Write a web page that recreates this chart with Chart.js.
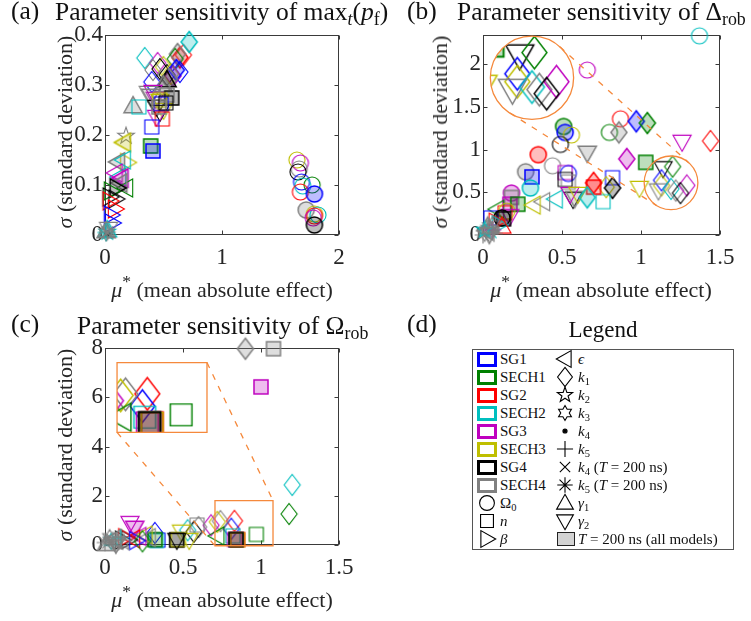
<!DOCTYPE html>
<html>
<head>
<meta charset="utf-8">
<script src="https://cdn.jsdelivr.net/npm/chart.js"></script>
<style>
  body { margin: 0; background: #fff; }
  #fig { position: relative; width: 751px; height: 621px; font-family: 'Liberation Serif', serif; color: #1a1a1a; overflow: hidden; }
  #fig canvas.panel { position: absolute; }
  .txt { position: absolute; white-space: nowrap; line-height: 1; }
  .ttl { font-size: 25.5px; color: #111; }
  .leghead { font-size: 23px; color: #111; }
  .axl { font-size: 22px; color: #262626; }
  .ylab { transform: translate(-50%, -50%) rotate(-90deg); }
  .xlab { transform: translateX(-50%); }
  sub { font-size: 0.7em; vertical-align: -0.3em; line-height: 0; }
  sup { font-size: 0.8em; vertical-align: 0.55em; line-height: 0; }
  #legendBox { position: absolute; left: 472px; top: 349px; width: 262px; height: 201px; box-sizing: border-box; border: 1px solid #555; }
  .leg { font-size: 15px; color: #111; }
  .swatch { position: absolute; width: 20px; height: 15px; box-sizing: border-box; border: 3px solid; }
</style>
</head>
<body>
<div id="fig">
  <canvas id="maxPf" class="panel" width="375" height="310" style="left:0;top:0"></canvas>
  <canvas id="deltaRob" class="panel" width="376" height="310" style="left:375px;top:0"></canvas>
  <canvas id="omegaRob" class="panel" width="375" height="311" style="left:0;top:310px"></canvas>

  <div class="txt ttl" style="left:11px;top:-2px">(a)</div>
  <div class="txt ttl" style="left:55px;top:-1px">Parameter sensitivity of max<sub><i>t</i></sub>(<i>p</i><sub>f</sub>)</div>
  <div class="txt ttl" style="left:407px;top:-2px">(b)</div>
  <div class="txt ttl" style="left:457px;top:-1px">Parameter sensitivity of Δ<sub>rob</sub></div>
  <div class="txt ttl" style="left:11px;top:311px">(c)</div>
  <div class="txt ttl" style="left:77px;top:313px">Parameter sensitivity of Ω<sub>rob</sub></div>
  <div class="txt ttl" style="left:407px;top:311px">(d)</div>
  <div class="txt leghead xlab" style="left:603px;top:318px">Legend</div>

  <div class="txt axl ylab" style="left:65px;top:132px"><i>σ</i> (standard deviation)</div>
  <div class="txt axl ylab" style="left:440px;top:132px"><i>σ</i> (standard deviation)</div>
  <div class="txt axl ylab" style="left:65px;top:445px"><i>σ</i> (standard deviation)</div>
  <div class="txt axl xlab" style="left:222px;top:279px"><i>μ</i><sup>*</sup> (mean absolute effect)</div>
  <div class="txt axl xlab" style="left:601px;top:279px"><i>μ</i><sup>*</sup> (mean absolute effect)</div>
  <div class="txt axl xlab" style="left:222px;top:589px"><i>μ</i><sup>*</sup> (mean absolute effect)</div>

  <div id="legendBox"></div>
</div>

<script>
// models (colour) and swept parameters (marker)
const modelNames = ["SG1", "SECH1", "SG2", "SECH2", "SG3", "SECH3", "SG4", "SECH4"];
const paramKeys = ["Om", "n", "beta", "eps", "k1", "k2", "k3", "k4", "k5", "k4T", "k5T", "g1", "g2"];

// [mu*, sigma, model, parameter, T = 200 ns run]
const maxPfPoints = [
  [1.64, 0.150, "SECH3", "Om", 0], [1.67, 0.144, "SG3", "Om", 0], [1.66, 0.132, "SECH4", "Om", 0],
  [1.65, 0.126, "SG4", "Om", 0], [1.68, 0.106, "SG1", "Om", 0], [1.77, 0.100, "SECH1", "Om", 0],
  [1.69, 0.098, "SECH2", "Om", 0], [1.67, 0.086, "SG2", "Om", 0], [1.79, 0.082, "SG1", "Om", 1],
  [1.72, 0.050, "SECH4", "Om", 1], [1.79, 0.042, "SECH3", "Om", 0], [1.82, 0.040, "SECH2", "Om", 0],
  [1.79, 0.038, "SG2", "Om", 0], [1.78, 0.034, "SG3", "Om", 0], [1.79, 0.020, "SG4", "Om", 1],
  [0.34, 0.354, "SECH2", "k1", 0], [0.67, 0.360, "SG2", "k1", 0], [0.64, 0.355, "SG2", "k1", 1],
  [0.62, 0.362, "SECH4", "k1", 1], [0.60, 0.352, "SECH1", "k1", 0], [0.45, 0.344, "SG3", "k1", 0],
  [0.50, 0.336, "SECH3", "k1", 0], [0.64, 0.326, "SG1", "k1", 0], [0.41, 0.330, "SECH4", "k1", 0],
  [0.47, 0.332, "SG4", "k1", 0], [0.53, 0.320, "SG4", "k1", 0], [0.58, 0.318, "SG3", "k1", 1],
  [0.56, 0.322, "SECH3", "k1", 0], [0.40, 0.306, "SG1", "k1", 0], [0.61, 0.330, "SG1", "k1", 1],
  [0.55, 0.312, "SECH4", "k1", 1], [0.72, 0.386, "SECH2", "k1", 1],
  [0.53, 0.310, "SG4", "g1", 1], [0.50, 0.300, "SECH4", "g1", 1], [0.24, 0.258, "SECH4", "g1", 1],
  [0.37, 0.284, "SECH4", "g2", 0], [0.41, 0.286, "SG3", "g2", 0], [0.43, 0.272, "SG3", "g2", 0],
  [0.39, 0.278, "SECH4", "g2", 1], [0.47, 0.268, "SECH3", "g2", 0], [0.44, 0.256, "SG4", "g2", 0],
  [0.50, 0.250, "SECH3", "g2", 0], [0.47, 0.246, "SG4", "g2", 0], [0.44, 0.236, "SG3", "g2", 0],
  [0.57, 0.274, "SG4", "n", 1], [0.53, 0.280, "SECH4", "n", 1], [0.47, 0.270, "SECH3", "n", 0],
  [0.48, 0.262, "SG1", "n", 0], [0.46, 0.256, "SECH4", "n", 1], [0.52, 0.264, "SG4", "n", 0],
  [0.49, 0.232, "SG2", "n", 0], [0.40, 0.216, "SG1", "n", 0], [0.39, 0.178, "SECH1", "n", 1],
  [0.41, 0.168, "SG1", "n", 1], [0.29, 0.256, "SECH2", "n", 0],
  [0.18, 0.198, "SECH4", "k2", 0], [0.16, 0.185, "SECH3", "eps", 1], [0.19, 0.145, "SECH3", "beta", 0],
  [0.11, 0.146, "SECH4", "eps", 1], [0.16, 0.150, "SECH2", "eps", 0], [0.12, 0.116, "SECH2", "eps", 0],
  [0.14, 0.114, "SG3", "eps", 1], [0.09, 0.124, "SG3", "eps", 0], [0.18, 0.094, "SECH1", "eps", 0],
  [0.13, 0.104, "SECH4", "eps", 1], [0.10, 0.094, "SG4", "beta", 1], [0.05, 0.088, "SECH1", "beta", 0],
  [0.04, 0.076, "SG4", "beta", 0], [0.09, 0.072, "SG4", "beta", 0], [0.04, 0.068, "SG2", "beta", 0],
  [0.085, 0.052, "SG2", "beta", 0], [0.05, 0.040, "SG1", "beta", 0], [0.06, 0.024, "SG1", "beta", 0],
  [0.02, 0.010, "SECH2", "g1", 1], [0.01, 0.008, "SECH4", "g1", 1], [0.02, 0.006, "SECH2", "k2", 0],
  [0.01, 0.004, "SECH4", "k3", 0], [0.02, 0.003, "SG4", "k4", 0], [0.01, 0.005, "SECH2", "k5", 0],
  [0.02, 0.004, "SECH4", "k4T", 0], [0.02, 0.006, "SECH4", "k5T", 0], [0.03, 0.012, "SECH4", "g2", 0]
];

const deltaRobPoints = [
  [1.37, 2.33, "SECH2", "Om", 0], [0.66, 1.93, "SG3", "Om", 0], [0.87, 1.36, "SG2", "Om", 0],
  [0.97, 1.33, "SG1", "k1", 1], [1.04, 1.31, "SECH1", "k1", 1], [0.80, 1.20, "SECH1", "Om", 0],
  [0.86, 1.20, "SECH4", "k1", 1], [1.26, 1.09, "SG3", "g2", 0], [1.44, 1.10, "SG2", "k1", 0],
  [0.91, 0.89, "SG3", "k1", 1], [1.03, 0.85, "SECH1", "n", 1],
  [1.14, 0.78, "SG4", "g2", 0], [1.20, 0.80, "SECH1", "k1", 0], [1.13, 0.64, "SG1", "k1", 0],
  [1.13, 0.58, "SECH3", "k1", 0], [1.11, 0.52, "SECH4", "g2", 0], [1.19, 0.54, "SECH2", "k1", 0],
  [1.22, 0.52, "SECH4", "k1", 0], [1.29, 0.58, "SG3", "k1", 0], [1.25, 0.49, "SG4", "k1", 0],
  [0.99, 0.55, "SECH3", "g2", 0], [0.82, 0.67, "SG1", "n", 0], [0.78, 0.56, "SECH3", "k1", 0],
  [0.82, 0.55, "SG4", "k1", 1], [0.76, 0.39, "SECH2", "n", 0],
  [0.51, 1.27, "SECH1", "Om", 1], [0.52, 1.20, "SG1", "Om", 1], [0.56, 1.17, "SECH3", "Om", 0],
  [0.49, 1.06, "SG4", "Om", 0], [0.66, 0.96, "SECH4", "g2", 1], [0.35, 0.94, "SG2", "Om", 1],
  [0.44, 0.81, "SECH4", "Om", 0], [0.27, 0.74, "SECH4", "Om", 1], [0.31, 0.68, "SG1", "n", 1],
  [0.52, 0.73, "SG3", "n", 0], [0.54, 0.72, "SG1", "Om", 0], [0.52, 0.65, "SG4", "n", 0],
  [0.54, 0.62, "SECH4", "n", 0], [0.30, 0.55, "SECH2", "Om", 1], [0.18, 0.49, "SG3", "Om", 1],
  [0.18, 0.44, "SECH4", "n", 1], [0.17, 0.36, "SG3", "n", 1], [0.22, 0.36, "SECH1", "n", 1],
  [0.70, 0.61, "SG2", "k1", 1], [0.70, 0.56, "SG2", "n", 1], [0.46, 0.42, "SECH2", "eps", 0],
  [0.38, 0.39, "SECH4", "eps", 0], [0.32, 0.35, "SECH3", "eps", 0], [0.57, 0.42, "SG4", "g2", 0],
  [0.58, 0.43, "SECH4", "g2", 1], [0.55, 0.48, "SG3", "g2", 0], [0.60, 0.48, "SECH3", "g2", 0],
  [0.66, 0.44, "SECH2", "k1", 1], [0.09, 0.30, "SECH1", "eps", 0], [0.14, 0.26, "SG2", "n", 0],
  [0.15, 0.28, "SECH3", "Om", 0], [0.17, 0.22, "SG3", "g2", 0], [0.05, 0.20, "SG1", "n", 0],
  [0.12, 0.20, "SG4", "Om", 1], [0.13, 0.19, "SG4", "n", 1], [0.08, 0.15, "SG2", "beta", 0],
  [0.10, 0.12, "SECH2", "beta", 0], [0.12, 0.10, "SG2", "g1", 0], [0.03, 0.08, "SECH4", "k5T", 0],
  [0.04, 0.08, "SECH4", "k2", 0], [0.01, 0.02, "SECH4", "k3", 0], [0.05, 0.03, "SECH2", "k4T", 0],
  [0.03, 0.10, "SECH4", "g1", 1], [0.06, 0.06, "SG3", "k5", 0], [0.09, 0.04, "SECH4", "k4", 0],
  [0.00, 0.00, "SECH4", "k5T", 0], [0.02, 0.05, "SECH4", "eps", 1], [0.06, 0.12, "SECH4", "k3", 0],
  [0.01, 0.06, "SECH2", "k2", 0], [0.07, 0.02, "SECH4", "k5", 0], [0.04, 0.01, "SECH4", "g2", 1]
];

const omegaRobPoints = [
  [0.90, 7.97, "SECH4", "k1", 1], [1.08, 7.97, "SECH4", "n", 1], [1.00, 6.42, "SG3", "n", 1],
  [1.20, 2.44, "SECH2", "k1", 0], [1.18, 1.26, "SECH1", "k1", 0],
  [0.83, 0.98, "SG2", "k1", 0], [0.81, 0.66, "SG1", "k1", 0], [0.97, 0.43, "SECH1", "n", 0],
  [0.82, 0.37, "SECH2", "n", 0], [0.83, 0.22, "SG3", "n", 0], [0.85, 0.22, "SG2", "n", 1],
  [0.84, 0.23, "SECH4", "n", 1], [0.85, 0.21, "SECH3", "n", 0], [0.84, 0.22, "SG4", "n", 1],
  [0.74, 0.97, "SECH4", "k1", 0], [0.72, 0.94, "SECH3", "k1", 0], [0.68, 0.80, "SG3", "k1", 0],
  [0.72, 0.37, "SECH1", "eps", 0], [0.60, 0.73, "SECH4", "k1", 0], [0.57, 0.54, "SG4", "k1", 0],
  [0.53, 0.60, "SECH2", "k1", 0], [0.59, 0.81, "SECH4", "n", 0], [0.49, 0.54, "SECH3", "g2", 0],
  [0.54, 0.20, "SECH3", "g2", 0], [0.46, 0.22, "SECH4", "n", 1], [0.46, 0.20, "SG4", "n", 1],
  [0.47, 0.22, "SECH3", "n", 0], [0.46, 0.20, "SG4", "g2", 0], [0.19, 0.69, "SG3", "g2", 1],
  [0.16, 0.89, "SG3", "g2", 0], [0.32, 0.49, "SG1", "k1", 0], [0.34, 0.20, "SG1", "n", 0],
  [0.33, 0.18, "SECH2", "n", 0], [0.32, 0.22, "SECH1", "n", 1], [0.26, 0.41, "SECH3", "eps", 0],
  [0.28, 0.30, "SECH4", "eps", 0], [0.22, 0.35, "SG3", "eps", 0], [0.11, 0.20, "SG4", "beta", 0],
  [0.15, 0.22, "SG4", "beta", 0], [0.13, 0.30, "SG2", "beta", 0], [0.18, 0.25, "SG2", "eps", 0],
  [0.20, 0.18, "SG1", "beta", 0], [0.24, 0.15, "SECH1", "k1", 0], [0.05, 0.20, "SECH4", "k5T", 0],
  [0.02, 0.10, "SECH4", "k4T", 0], [0.04, 0.15, "SECH2", "k3", 0], [0.08, 0.12, "SECH4", "k2", 0],
  [0.01, 0.05, "SECH4", "g1", 1], [0.06, 0.25, "SECH4", "eps", 1], [0.10, 0.30, "SECH2", "k5", 0],
  [0.03, 0.30, "SECH4", "k3", 0], [0.00, 0.10, "SECH4", "k5T", 0], [0.07, 0.05, "SECH4", "g2", 1],
  [0.12, 0.10, "SECH4", "k2", 0]
];

// axis ticks
const maxPfXTicks = [0, 1, 2];
const maxPfYTicks = [0, 0.1, 0.2, 0.3, 0.4];
const deltaXTicks = [0, 0.5, 1, 1.5];
const deltaYTicks = [0, 0.5, 1, 1.5, 2];
const omegaXTicks = [0, 0.5, 1, 1.5];
const omegaYTicks = [0, 2, 4, 6, 8];

// legend entries, column by column
const legendCol1 = ["SG1", "SECH1", "SG2", "SECH2", "SG3", "SECH3", "SG4", "SECH4", "Om", "n", "beta"];
const legendCol2 = ["eps", "k1", "k2", "k3", "k4", "k5", "k4T", "k5T", "g1", "g2", "T200"];
const paramLabels = {
  Om: "Ω<sub>0</sub>", n: "<i>n</i>", beta: "<i>β</i>", eps: "<i>ϵ</i>",
  k1: "<i>k</i><sub>1</sub>", k2: "<i>k</i><sub>2</sub>", k3: "<i>k</i><sub>3</sub>",
  k4: "<i>k</i><sub>4</sub>", k5: "<i>k</i><sub>5</sub>",
  k4T: "<i>k</i><sub>4</sub> (<i>T</i> = 200 ns)", k5T: "<i>k</i><sub>5</sub> (<i>T</i> = 200 ns)",
  g1: "<i>γ</i><sub>1</sub>", g2: "<i>γ</i><sub>2</sub>", T200: "<i>T</i> = 200 ns (all models)"
};

// styling
const modelColors = {
  SG1: "#0000ff", SECH1: "#008000", SG2: "#ff0000", SECH2: "#00bfbf",
  SG3: "#bf00bf", SECH3: "#bfbf00", SG4: "#000000", SECH4: "#808080"
};
const ORANGE = "#f5893c";
const LINE_MARKERS = new Set(["k5", "k4T", "k5T"]);
const TICK_FONT = { family: "Liberation Serif", size: 23 };
Chart.defaults.font.family = "Liberation Serif";

function tint(hex, a) {
  const v = parseInt(hex.slice(1), 16);
  return `rgba(${v >> 16},${(v >> 8) & 255},${v & 255},${a})`;
}

function poly(g, r, pts) {
  pts.forEach(([px, py], i) => (i ? g.lineTo(px * r, py * r) : g.moveTo(px * r, py * r)));
  g.closePath();
}

function star(g, n, rOut, rIn) {
  for (let i = 0; i < 2 * n; i++) {
    const a = -Math.PI / 2 + (i * Math.PI) / n;
    const rr = i % 2 ? rIn : rOut;
    i ? g.lineTo(rr * Math.cos(a), rr * Math.sin(a)) : g.moveTo(rr * Math.cos(a), rr * Math.sin(a));
  }
  g.closePath();
}

function markerPath(g, param, r) {
  g.beginPath();
  switch (param) {
    case "Om": g.arc(0, 0, 1.15 * r, 0, 2 * Math.PI); break;
    case "n": g.rect(-r, -r, 2 * r, 2 * r); break;
    case "k1": poly(g, r, [[0, -1.5], [1.15, 0], [0, 1.5], [-1.15, 0]]); break;
    case "g1": poly(g, r, [[0, -1.35], [1.3, 0.95], [-1.3, 0.95]]); break;
    case "g2": poly(g, r, [[0, 1.35], [1.3, -0.95], [-1.3, -0.95]]); break;
    case "beta": poly(g, r, [[1.35, 0], [-0.95, -1.3], [-0.95, 1.3]]); break;
    case "eps": poly(g, r, [[-1.35, 0], [0.95, -1.3], [0.95, 1.3]]); break;
    case "k2": star(g, 5, 1.25 * r, 0.5 * r); break;
    case "k3": star(g, 6, 1.15 * r, 0.66 * r); break;
    case "k4": g.arc(0, 0, 0.32 * r, 0, 2 * Math.PI); break;
    case "k5":
      g.moveTo(-1.25 * r, 0); g.lineTo(1.25 * r, 0);
      g.moveTo(0, -1.25 * r); g.lineTo(0, 1.25 * r); break;
    case "k4T":
      g.moveTo(-0.8 * r, -0.8 * r); g.lineTo(0.8 * r, 0.8 * r);
      g.moveTo(0.8 * r, -0.8 * r); g.lineTo(-0.8 * r, 0.8 * r); break;
    case "k5T":
      g.moveTo(-1.2 * r, 0); g.lineTo(1.2 * r, 0);
      g.moveTo(0, -1.2 * r); g.lineTo(0, 1.2 * r);
      g.moveTo(-0.85 * r, -0.85 * r); g.lineTo(0.85 * r, 0.85 * r);
      g.moveTo(0.85 * r, -0.85 * r); g.lineTo(-0.85 * r, 0.85 * r); break;
  }
}

const markerCache = new Map();
function marker(param, color, t200, scale) {
  const key = [param, color, t200, scale].join("|");
  if (markerCache.has(key)) return markerCache.get(key);
  const r = 7 * scale;
  const dim = Math.ceil(3.4 * r) + 4;
  const c = document.createElement("canvas");
  c.width = c.height = dim;
  const g = c.getContext("2d");
  g.translate(dim / 2, dim / 2);
  g.strokeStyle = color;
  g.lineWidth = (t200 ? 1.5 : 1.1) * Math.max(1, scale * 0.85);
  markerPath(g, param, r);
  if (param === "k4") {
    g.fillStyle = color;
    g.fill();
  } else if (t200 && !LINE_MARKERS.has(param)) {
    g.fillStyle = tint(color, 0.26);
    g.fill();
  }
  g.stroke();
  markerCache.set(key, c);
  return c;
}

// box + inward tick marks on all four sides
function framePlugin(xTicks, yTicks) {
  return {
    id: "frame",
    beforeDatasetsDraw(chart) {
      const { ctx, chartArea: a, scales } = chart;
      const L = Math.round(a.left) + 0.5, R = Math.round(a.right) - 0.5;
      const T = Math.round(a.top) + 0.5, B = Math.round(a.bottom) - 0.5;
      ctx.save();
      ctx.strokeStyle = "#3a3a3a";
      ctx.lineWidth = 1;
      ctx.strokeRect(L, T, R - L, B - T);
      ctx.beginPath();
      xTicks.forEach((v) => {
        const px = Math.round(scales.x.getPixelForValue(v)) + 0.5;
        ctx.moveTo(px, B); ctx.lineTo(px, B - 4);
        ctx.moveTo(px, T); ctx.lineTo(px, T + 4);
      });
      yTicks.forEach((v) => {
        const py = Math.round(scales.y.getPixelForValue(v)) + 0.5;
        ctx.moveTo(L, py); ctx.lineTo(L + 4, py);
        ctx.moveTo(R, py); ctx.lineTo(R - 4, py);
      });
      ctx.stroke();
      ctx.restore();
    }
  };
}

// magnified copy of one region, drawn into a larger outline with dashed connectors
function insetPlugin(inset) {
  const geom = (chart) => {
    const { x, y } = chart.scales;
    const px = (p) => ({ x: x.getPixelForValue(p[0]), y: y.getPixelForValue(p[1]) });
    const c1 = px(inset.from), c2 = px(inset.to);
    if (inset.shape === "circle") {
      const r1 = x.getPixelForValue(inset.from[0] + inset.r) - c1.x;
      return { c1, c2, r1, r2: r1 * inset.k };
    }
    const hw = x.getPixelForValue(inset.from[0] + inset.half[0]) - c1.x;
    const hh = y.getPixelForValue(inset.from[1] - inset.half[1]) - c1.y;
    return { c1, c2, hw, hh, HW: hw * inset.k, HH: hh * inset.k };
  };
  const bigPath = (ctx, g) => {
    ctx.beginPath();
    if (inset.shape === "circle") ctx.arc(g.c2.x, g.c2.y, g.r2, 0, 2 * Math.PI);
    else ctx.rect(g.c2.x - g.HW, g.c2.y - g.HH, 2 * g.HW, 2 * g.HH);
  };
  return {
    id: "inset",
    beforeDatasetDraw(chart, args) {
      if (args.index !== 1) return;
      chart.ctx.save();
      bigPath(chart.ctx, geom(chart));
      chart.ctx.clip();
    },
    afterDatasetDraw(chart, args) {
      if (args.index === 1) chart.ctx.restore();
    },
    afterDatasetsDraw(chart) {
      const ctx = chart.ctx, g = geom(chart);
      ctx.save();
      ctx.strokeStyle = ORANGE;
      ctx.lineWidth = 1.3;
      bigPath(ctx, g);
      ctx.stroke();
      ctx.beginPath();
      let links;
      if (inset.shape === "circle") {
        ctx.arc(g.c1.x, g.c1.y, g.r1, 0, 2 * Math.PI);
        const dx = g.c1.x - g.c2.x, dy = g.c1.y - g.c2.y, d = Math.hypot(dx, dy);
        const th = Math.atan2(dy, dx), al = Math.acos((g.r2 - g.r1) / d);
        links = [th - al, th + al].map((t) => [
          [g.c2.x + g.r2 * Math.cos(t), g.c2.y + g.r2 * Math.sin(t)],
          [g.c1.x + g.r1 * Math.cos(t), g.c1.y + g.r1 * Math.sin(t)]
        ]);
      } else {
        ctx.rect(g.c1.x - g.hw, g.c1.y - g.hh, 2 * g.hw, 2 * g.hh);
        links = [
          [[g.c2.x - g.HW, g.c2.y + g.HH], [g.c1.x - g.hw, g.c1.y + g.hh]],
          [[g.c2.x + g.HW, g.c2.y - g.HH], [g.c1.x + g.hw, g.c1.y - g.hh]]
        ];
      }
      ctx.stroke();
      ctx.setLineDash([6, 7]);
      ctx.beginPath();
      links.forEach(([p, q]) => { ctx.moveTo(p[0], p[1]); ctx.lineTo(q[0], q[1]); });
      ctx.stroke();
      ctx.restore();
    }
  };
}

function axis(max, ticks, fit) {
  return {
    type: "linear",
    min: 0,
    max: max,
    grid: { display: false, drawTicks: false },
    border: { display: false },
    ticks: { font: TICK_FONT, color: "#262626", padding: fit.pad, callback: (v) => `${v}` },
    afterBuildTicks: (s) => { s.ticks = ticks.map((v) => ({ value: v })); },
    afterFit: fit.size
  };
}

function drawPanel(id, points, opts) {
  const colorOf = (p) => modelColors[p[2]];
  const styles = points.map((p) => marker(p[3], colorOf(p), p[4], 1));
  const datasets = [{
    data: points.map((p) => ({ x: p[0], y: p[1] })),
    pointStyle: (c) => styles[c.dataIndex],
    pointRadius: 8,
    clip: false
  }];
  const plugins = [framePlugin(opts.xTicks, opts.yTicks)];
  if (opts.inset) {
    const ins = opts.inset;
    const zoomStyles = points.map((p) => marker(p[3], colorOf(p), p[4], ins.k));
    datasets.push({
      data: points.map((p) => ({
        x: ins.to[0] + (p[0] - ins.from[0]) * ins.k,
        y: ins.to[1] + (p[1] - ins.from[1]) * ins.k
      })),
      pointStyle: (c) => zoomStyles[c.dataIndex],
      pointRadius: 8,
      clip: false
    });
    plugins.push(insetPlugin(ins));
  }
  new Chart(document.getElementById(id), {
    type: "scatter",
    data: { datasets },
    options: {
      responsive: false,
      animation: false,
      events: [],
      layout: { padding: opts.padding },
      plugins: { legend: { display: false }, tooltip: { enabled: false } },
      scales: {
        x: axis(opts.xMax, opts.xTicks, { pad: 9, size: (s) => { s.height = 40; } }),
        y: axis(opts.yMax, opts.yTicks, { pad: 2, size: (s) => { s.width = opts.yWidth; } })
      }
    },
    plugins
  });
}

drawPanel("maxPf", maxPfPoints, {
  xMax: 2, yMax: 0.4, xTicks: maxPfXTicks, yTicks: maxPfYTicks,
  yWidth: 105, padding: { left: 0, top: 35, right: 36, bottom: 35 }
});

drawPanel("deltaRob", deltaRobPoints, {
  xMax: 1.5, yMax: 2.34, xTicks: deltaXTicks, yTicks: deltaYTicks,
  yWidth: 108, padding: { left: 0, top: 35, right: 31, bottom: 35 },
  inset: { shape: "circle", from: [1.19, 0.61], to: [0.31, 1.84], k: 1.55, r: 0.17 }
});

drawPanel("omegaRob", omegaRobPoints, {
  xMax: 1.5, yMax: 8, xTicks: omegaXTicks, yTicks: omegaYTicks,
  yWidth: 105, padding: { left: 0, top: 38, right: 36, bottom: 36 },
  inset: { shape: "rect", from: [0.891, 0.885], to: [0.3655, 5.99], k: 1.55, half: [0.186, 0.915] }
});

// legend panel
const fig = document.getElementById("fig");
function addText(html, left, top, cls) {
  const d = document.createElement("div");
  d.className = "txt " + cls;
  d.style.left = left + "px";
  d.style.top = top + "px";
  d.innerHTML = html;
  fig.appendChild(d);
}
function addMarker(param, cx, cy) {
  const src = marker(param, "#000000", 0, 0.92);
  const c = document.createElement("canvas");
  c.width = src.width; c.height = src.height;
  c.getContext("2d").drawImage(src, 0, 0);
  c.style.position = "absolute";
  c.style.left = Math.round(cx - src.width / 2) + "px";
  c.style.top = Math.round(cy - src.height / 2) + "px";
  fig.appendChild(c);
}

const ROW0 = 359, ROW_H = 18;
legendCol1.forEach((key, i) => {
  const cy = ROW0 + i * ROW_H;
  if (modelColors[key]) {
    const s = document.createElement("div");
    s.className = "swatch";
    s.style.left = "477px";
    s.style.top = (cy - 7) + "px";
    s.style.borderColor = modelColors[key];
    fig.appendChild(s);
    addText(key, 500, cy - 7.5, "leg");
  } else {
    addMarker(key, 487, cy);
    addText(paramLabels[key], 500, cy - 7.5, "leg");
  }
});
legendCol2.forEach((key, i) => {
  const cy = ROW0 + i * ROW_H;
  if (key === "T200") {
    const s = document.createElement("div");
    s.className = "swatch";
    Object.assign(s.style, { left: "557px", top: (cy - 7) + "px", width: "18px", height: "14px",
      borderWidth: "1px", borderColor: "#222", background: "#d3d3d3" });
    fig.appendChild(s);
  } else {
    addMarker(key, 565, cy);
  }
  addText(paramLabels[key], 578, cy - 7.5, "leg");
});
</script>
</body>
</html>
